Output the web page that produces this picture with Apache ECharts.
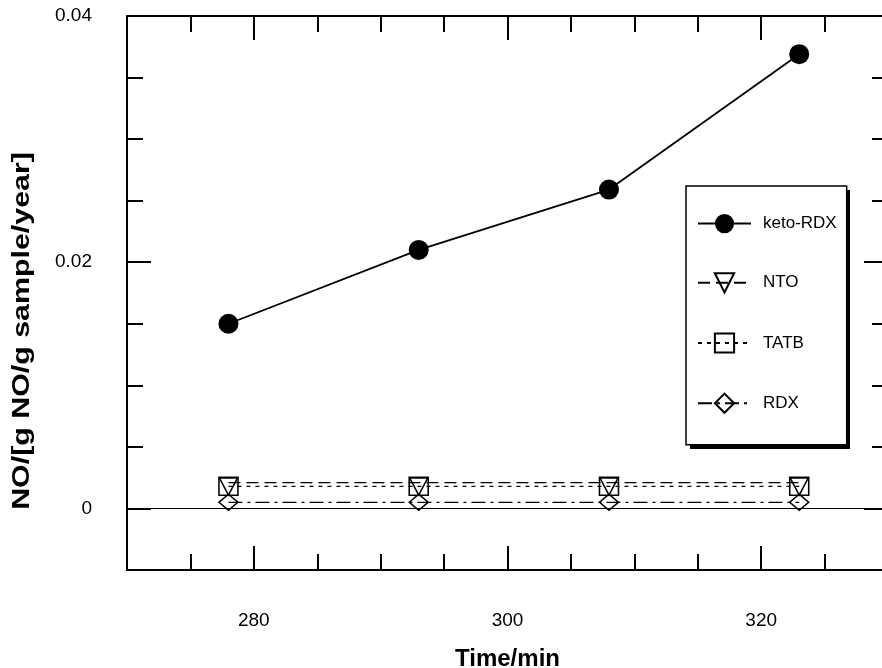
<!DOCTYPE html>
<html>
<head>
<meta charset="utf-8">
<script src="https://cdn.jsdelivr.net/npm/echarts@6/dist/echarts.min.js"></script>
<style>
  html, body { margin: 0; padding: 0; background: #fff; }
  #chart { width: 882px; height: 668px; }
</style>
</head>
<body>
<div id="chart"></div>
<script>
// data
const timeMin = [278, 293, 308, 323];
const ketoRDX = [0.0150, 0.0210, 0.0259, 0.0369];
const nto = [0.0021, 0.0021, 0.0021, 0.0021];
const tatb = [0.0018, 0.0018, 0.0018, 0.0018];
const rdx = [0.0005, 0.0005, 0.0005, 0.0005];

// tick positions
const xMinorTicks = [270, 275, 280, 285, 290, 295, 300, 305, 310, 315, 320, 325, 330];
const xMajorTicks = [280, 300, 320];
const yMinorTicks = [-0.005, 0, 0.005, 0.01, 0.015, 0.02, 0.025, 0.03, 0.035, 0.04];
const yMajorTicks = [0, 0.02, 0.04];

const FONT = 'Liberation Sans, Arial, sans-serif';
const BLACK = '#000';

function pairs(ys) {
  let out = [];
  for (let i = 0; i < timeMin.length; i++) {
    out.push([timeMin[i], ys[i]]);
  }
  return out;
}

// two axes per side: short minor ticks with the line, longer labelled major ticks
function makeAxis(pos, min, max, minorTicks, majorTicks, isX, showLabel) {
  const minor = {
    type: 'value', position: pos, min: min, max: max,
    axisLine: { show: true, onZero: false, lineStyle: { color: BLACK, width: 2 } },
    axisTick: { show: true, inside: true, length: 16, customValues: minorTicks, lineStyle: { color: BLACK, width: 2 } },
    axisLabel: { show: false },
    splitLine: { show: false }
  };
  const major = {
    type: 'value', position: pos, min: min, max: max,
    axisLine: { show: false, onZero: false },
    axisTick: { show: true, inside: true, length: 24, customValues: majorTicks, lineStyle: { color: BLACK, width: 2 } },
    axisLabel: {
      show: showLabel, customValues: majorTicks, color: BLACK,
      fontFamily: FONT, fontSize: 19, margin: isX ? 41 : 35
    },
    splitLine: { show: false }
  };
  return [minor, major];
}

const xAxes = makeAxis('bottom', 270, 330, xMinorTicks, xMajorTicks, true, true)
  .concat(makeAxis('top', 270, 330, xMinorTicks, xMajorTicks, true, false));
xAxes[1].name = 'Time/min';
xAxes[1].nameLocation = 'middle';
xAxes[1].nameGap = 77;
xAxes[1].nameTextStyle = { color: BLACK, fontFamily: FONT, fontSize: 24, fontWeight: 'bold' };

const yAxes = makeAxis('left', -0.005, 0.04, yMinorTicks, yMajorTicks, false, true)
  .concat(makeAxis('right', -0.005, 0.04, yMinorTicks, yMajorTicks, false, false));

const hollow = { color: 'rgba(0,0,0,0)', borderColor: BLACK, borderWidth: 1.5 };

const chart = echarts.init(document.getElementById('chart'));
chart.setOption({
  animation: false,
  backgroundColor: '#fff',
  // the right frame edge sits just past the picture edge
  grid: { left: 127, right: -6, top: 16, bottom: 98, outerBoundsMode: 'none', containLabel: false },
  xAxis: xAxes,
  yAxis: yAxes,
  graphic: [
    {
      // legend drop shadow
      type: 'rect', z: 1,
      shape: { x: 690, y: 190, width: 160, height: 259 },
      style: { fill: BLACK }
    },
    {
      // y axis title, stretched like the original lettering
      type: 'text', z: 10,
      x: 23, y: 331, rotation: Math.PI / 2, scaleX: 1.32,
      style: {
        text: 'NO/[g NO/g sample/year]',
        fill: BLACK,
        font: 'bold 23px Liberation Sans, Arial, sans-serif',
        align: 'center', verticalAlign: 'middle'
      }
    }
  ],
  legend: {
    z: 5,
    orient: 'vertical',
    left: 686,
    top: 186,
    padding: [28, 10, 31, 11],
    itemGap: 39,
    itemWidth: 53,
    itemHeight: 24,
    backgroundColor: '#fff',
    borderColor: BLACK,
    borderWidth: 1.5,
    textStyle: { color: BLACK, fontFamily: FONT, fontSize: 17, padding: [0, 0, 0, 7] },
    data: ['keto-RDX', 'NTO', 'TATB', 'RDX']
  },
  series: [
    {
      name: 'keto-RDX',
      type: 'line',
      data: pairs(ketoRDX),
      symbol: 'circle',
      symbolSize: 20,
      itemStyle: { color: BLACK },
      lineStyle: { color: BLACK, width: 1.8 },
      markLine: {
        silent: true,
        symbol: 'none',
        label: { show: false },
        lineStyle: { color: BLACK, width: 1, type: 'solid' },
        data: [{ yAxis: 0 }]
      }
    },
    {
      name: 'NTO',
      type: 'line',
      data: pairs(nto),
      symbol: 'path://M0,0 L10,0 L5,10 Z',
      symbolSize: [18, 17],
      symbolOffset: [0, 4],
      itemStyle: hollow,
      lineStyle: { color: BLACK, width: 1.3, type: [12, 6] }
    },
    {
      name: 'TATB',
      type: 'line',
      data: pairs(tatb),
      symbol: 'rect',
      symbolSize: [19, 18],
      itemStyle: hollow,
      lineStyle: { color: BLACK, width: 1.3, type: [4, 5] }
    },
    {
      name: 'RDX',
      type: 'line',
      data: pairs(rdx),
      symbol: 'diamond',
      symbolSize: [19, 16],
      itemStyle: hollow,
      lineStyle: { color: BLACK, width: 1.3, type: [14, 5, 3, 5] }
    }
  ]
});
</script>
</body>
</html>
